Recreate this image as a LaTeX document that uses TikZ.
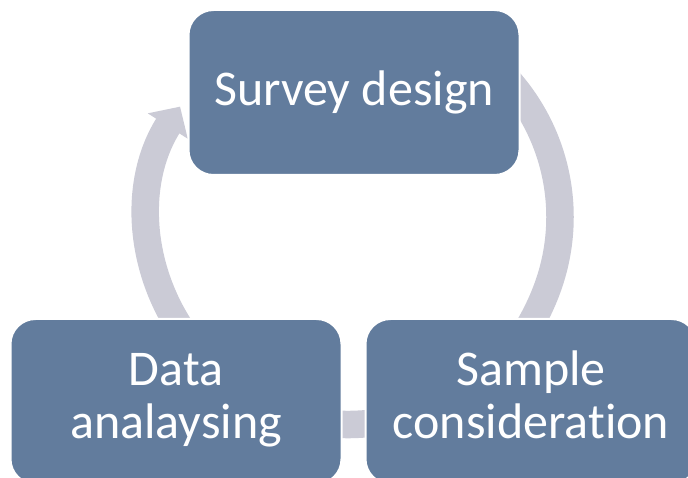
\documentclass[tikz,border=0pt]{standalone}
\usepackage{fontspec}
\setmainfont{Carlito}[Ligatures=NoCommon]
\usetikzlibrary{arrows.meta}
\definecolor{boxblue}{RGB}{98,124,157}
\definecolor{ringgray}{RGB}{203,203,214}

\begin{document}
\begin{tikzpicture}[x=1pt, y=1pt,
		stagebox/.style={draw=white, line width=2pt, fill=boxblue, rounded corners=25pt,
			minimum width=331pt, minimum height=165pt, inner sep=0pt,
			text=white, align=center, font=\fontsize{50pt}{53pt}\selectfont},
		ringarc/.style={draw=ringgray, line width=27.5pt, -{Triangle[width=46pt, length=23pt]}}]
	\useasboundingbox (0,0) rectangle (688,477);
	\coordinate (C) at (354,260);
	% the ring pieces go first, the boxes hide their ends
	\foreach \a/\b in {43/-52, -60/-120, 230/147.6}{
		\draw [ringarc] (C) ++(\a:206) arc [start angle=\a, end angle=\b, radius=206];}
	
	\node [stagebox] (design) at (354,384.5) {Survey design};
	\node [stagebox] (sample) at (531,75.5) {Sample\strut\\consideration\strut};
	\node [stagebox] (data) at (176,75.5) {Data\strut\\analaysing\strut};
\end{tikzpicture}
\end{document}
